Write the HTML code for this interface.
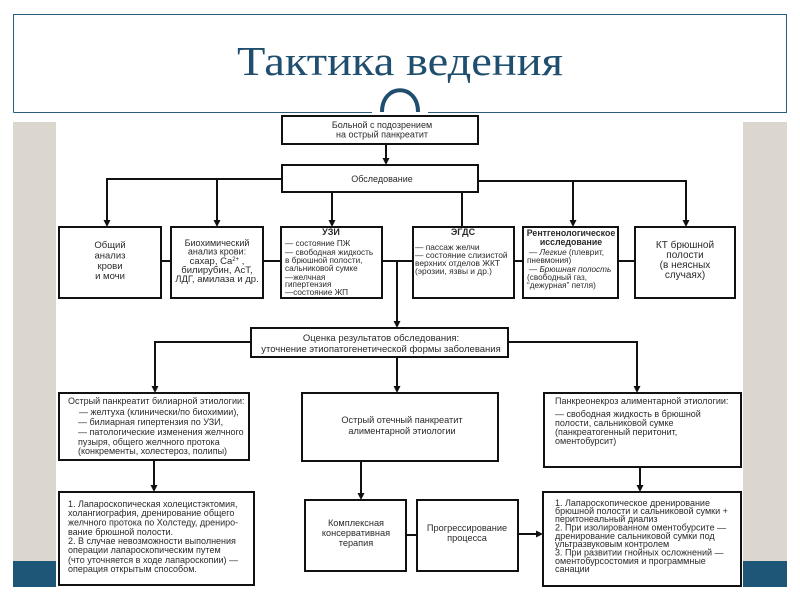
<!DOCTYPE html>
<html>
<head>
<meta charset="utf-8">
<style>
  html,body{margin:0;padding:0;background:#fff;}
  body{width:800px;height:600px;overflow:hidden;}
  svg{display:block;}
  .t{font-family:"Liberation Sans","DejaVu Sans",sans-serif;fill:#2a2a2a;}
</style>
</head>
<body>
<svg width="800" height="600" viewBox="0 0 800 600" xmlns="http://www.w3.org/2000/svg">
  <!-- side panels -->
  <rect x="13" y="122" width="43" height="440" fill="#DCD7CE"/>
  <rect x="743" y="122" width="44" height="440" fill="#DCD7CE"/>
  <rect x="13" y="561" width="43" height="26" fill="#1E5677"/>
  <rect x="743" y="561" width="44" height="26" fill="#1E5677"/>
  <rect x="56" y="112" width="687" height="488" fill="#fff"/>

  <!-- title frame -->
  <path d="M13.5 112.5 V14.5 H786.5 V112.5 H428 M372 112.5 H13.5" fill="none" stroke="#2B5B7A" stroke-width="1"/>
  <path d="M382 112 C382 83 418 83 418 112" fill="none" stroke="#1F4E6E" stroke-width="4"/>
  <text x="237" y="75" textLength="326" lengthAdjust="spacingAndGlyphs" font-family="'Liberation Serif','DejaVu Serif',serif" font-size="41" fill="#1F4E6E">Тактика ведения</text>

  <!-- boxes -->
  <g fill="#fff" stroke="#111" stroke-width="2">
    <rect x="282" y="116" width="196" height="28"/>
    <rect x="282" y="165" width="196" height="27"/>
    <rect x="59" y="227" width="102" height="71"/>
    <rect x="171" y="227" width="92" height="71"/>
    <rect x="281" y="227" width="101" height="71"/>
    <rect x="413" y="227" width="101" height="71"/>
    <rect x="523" y="227" width="95" height="71"/>
    <rect x="635" y="227" width="100" height="71"/>
    <rect x="251" y="328" width="257" height="29"/>
    <rect x="59" y="393" width="190" height="67"/>
    <rect x="302" y="393" width="196" height="68"/>
    <rect x="544" y="393" width="197" height="74"/>
    <rect x="59" y="492" width="195" height="93"/>
    <rect x="305" y="500" width="101" height="71"/>
    <rect x="417" y="500" width="101" height="71"/>
    <rect x="543" y="492" width="198" height="94"/>
  </g>

  <!-- connectors -->
  <g stroke="#111" stroke-width="2" fill="none">
    <path d="M386 144 V159"/>
    <path d="M282 179 H107 V221 M217 179 V221"/>
    <path d="M332 192 V221"/>
    <path d="M462 192 V227"/>
    <path d="M478 181 H686 V221 M573 181 V221"/>
    <path d="M161 261 H171 M263 261 H281 M382 261 H413 M514 261 H523 M618 261 H635"/>
    <path d="M397 261 V322"/>
    <path d="M251 342 H155 V387"/>
    <path d="M397 357 V387"/>
    <path d="M508 342 H637 V387"/>
    <path d="M154 460 V486"/>
    <path d="M361 461 V494"/>
    <path d="M640 467 V486"/>
    <path d="M406 535 H417"/>
    <path d="M518 534 H537"/>
  </g>
  <g fill="#111">
    <polygon points="382.5,158 389.5,158 386,165"/>
    <polygon points="103.5,220 110.5,220 107,227"/>
    <polygon points="213.5,220 220.5,220 217,227"/>
    <polygon points="328.5,220 335.5,220 332,227"/>
    <polygon points="569.5,220 576.5,220 573,227"/>
    <polygon points="682.5,220 689.5,220 686,227"/>
    <polygon points="393.5,321 400.5,321 397,328"/>
    <polygon points="151.5,386 158.5,386 155,393"/>
    <polygon points="393.5,386 400.5,386 397,393"/>
    <polygon points="633.5,386 640.5,386 637,393"/>
    <polygon points="150.5,485 157.5,485 154,492"/>
    <polygon points="357.5,493 364.5,493 361,500"/>
    <polygon points="636.5,485 643.5,485 640,492"/>
    <polygon points="536,530.5 536,537.5 543,534"/>
  </g>

  <!-- texts -->
  <g class="t" font-size="9">
    <text x="382" y="128" text-anchor="middle">Больной с подозрением</text>
    <text x="382" y="137.5" text-anchor="middle">на острый панкреатит</text>
    <text x="382" y="182" text-anchor="middle">Обследование</text>
  </g>

  <g class="t" font-size="9.5" text-anchor="middle">
    <text x="110" y="248">Общий</text>
    <text x="110" y="258.5">анализ</text>
    <text x="110" y="269">крови</text>
    <text x="110" y="279">и мочи</text>
  </g>

  <g class="t" text-anchor="middle">
    <text x="217" y="246" font-size="9">Биохимический</text>
    <text x="217" y="254.5" font-size="9">анализ крови:</text>
    <text x="217" y="264" font-size="9.5">сахар, Ca<tspan dy="-3" font-size="6">2+</tspan><tspan dy="3"> ,</tspan></text>
    <text x="217" y="273" font-size="9.5">билирубин, АсТ,</text>
    <text x="217" y="282" font-size="9.5">ЛДГ, амилаза и др.</text>
  </g>

  <g class="t" font-size="8.2">
    <text x="331" y="235" text-anchor="middle" font-weight="bold" font-size="9">УЗИ</text>
    <text x="285" y="246">— состояние ПЖ</text>
    <text x="285" y="255">— свободная жидкость</text>
    <text x="285" y="263">в брюшной полости,</text>
    <text x="285" y="271">сальниковой сумке</text>
    <text x="285" y="280">—желчная</text>
    <text x="285" y="287">гипертензия</text>
    <text x="285" y="295">—состояние ЖП</text>
  </g>

  <g class="t" font-size="8.4">
    <text x="463" y="235" text-anchor="middle" font-weight="bold" font-size="9">ЭГДС</text>
    <text x="415" y="250">— пассаж желчи</text>
    <text x="415" y="258">— состояние слизистой</text>
    <text x="415" y="266">верхних отделов ЖКТ</text>
    <text x="415" y="274">(эрозии, язвы и др.)</text>
  </g>

  <g class="t" font-size="8.2">
    <text x="571" y="236" text-anchor="middle" font-weight="bold" font-size="8.8">Рентгенологическое</text>
    <text x="571" y="245" text-anchor="middle" font-weight="bold" font-size="8.8">исследование</text>
    <text x="529" y="255">— <tspan font-style="italic">Легкие</tspan> (плеврит,</text>
    <text x="527" y="263">пневмония)</text>
    <text x="529" y="272">— <tspan font-style="italic">Брюшная полость</tspan></text>
    <text x="527" y="280">(свободный газ,</text>
    <text x="527" y="288">“дежурная” петля)</text>
  </g>

  <g class="t" font-size="10" text-anchor="middle">
    <text x="685" y="248">КТ брюшной</text>
    <text x="685" y="258">полости</text>
    <text x="685" y="268">(в неясных</text>
    <text x="685" y="278">случаях)</text>
  </g>

  <g class="t" font-size="9.5" text-anchor="middle">
    <text x="381" y="341">Оценка результатов обследования:</text>
    <text x="381" y="352">уточнение этиопатогенетической формы заболевания</text>
  </g>

  <g class="t" font-size="9">
    <text x="68" y="404">Острый панкреатит билиарной этиологии:</text>
    <text x="79" y="415">— желтуха (клинически/по биохимии),</text>
    <text x="78" y="425">— билиарная гипертензия по УЗИ,</text>
    <text x="78" y="435">— патологические изменения желчного</text>
    <text x="78" y="445">пузыря, общего желчного протока</text>
    <text x="78" y="454">(конкременты, холестероз, полипы)</text>
  </g>

  <g class="t" font-size="9.2" text-anchor="middle">
    <text x="402" y="423">Острый отечный панкреатит</text>
    <text x="402" y="434">алиментарной этиологии</text>
  </g>

  <g class="t" font-size="9">
    <text x="555" y="404">Панкреонекроз алиментарной этиологии:</text>
    <text x="555" y="417">— свободная жидкость в брюшной</text>
    <text x="555" y="426">полости, сальниковой сумке</text>
    <text x="555" y="435">(панкреатогенный перитонит,</text>
    <text x="555" y="444">оментобурсит)</text>
  </g>

  <g class="t" font-size="9">
    <text x="68" y="507">1. Лапароскопическая холецистэктомия,</text>
    <text x="68" y="516">холангиография, дренирование общего</text>
    <text x="68" y="525.5">желчного протока по Холстеду, дрениро-</text>
    <text x="68" y="535">вание брюшной полости.</text>
    <text x="68" y="544">2. В случае невозможности выполнения</text>
    <text x="68" y="553">операции лапароскопическим путем</text>
    <text x="68" y="563">(что уточняется в ходе лапароскопии) —</text>
    <text x="68" y="572">операция открытым способом.</text>
  </g>

  <g class="t" font-size="9.2" text-anchor="middle">
    <text x="356" y="526">Комплексная</text>
    <text x="356" y="536">консервативная</text>
    <text x="356" y="546">терапия</text>
    <text x="467" y="531">Прогрессирование</text>
    <text x="467" y="541">процесса</text>
  </g>

  <g class="t" font-size="9">
    <text x="555" y="506">1. Лапароскопическое  дренирование</text>
    <text x="555" y="514">брюшной полости и сальниковой сумки +</text>
    <text x="555" y="522">перитонеальный диализ</text>
    <text x="555" y="530.5">2. При изолированном оментобурсите —</text>
    <text x="555" y="539">дренирование сальниковой сумки под</text>
    <text x="555" y="547">ультразвуковым контролем</text>
    <text x="555" y="555.5">3. При развитии гнойных осложнений —</text>
    <text x="555" y="564">оментобурсостомия и программные</text>
    <text x="555" y="572">санации</text>
  </g>
</svg>
</body>
</html>
